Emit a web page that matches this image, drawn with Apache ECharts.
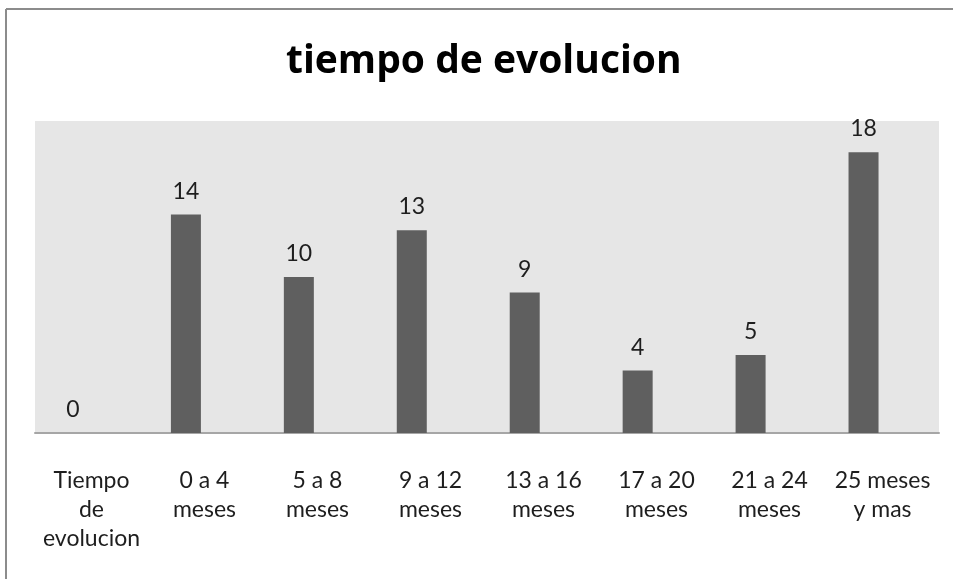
<!DOCTYPE html>
<html>
<head>
<meta charset="utf-8">
<script src="https://cdn.jsdelivr.net/npm/echarts@6/dist/echarts.min.js"></script>
<style>
  html, body { margin: 0; padding: 0; background: #fff; }
  #chart { width: 953px; height: 579px; }
</style>
</head>
<body>
<div id="chart"></div>
<script>
// datos del grafico
const categories = ['Tiempo\nde\nevolucion', '0 a 4\nmeses', '5 a 8\nmeses', '9 a 12\nmeses',
  '13 a 16\nmeses', '17 a 20\nmeses', '21 a 24\nmeses', '25 meses\ny mas']
const values = [0, 14, 10, 13, 9, 4, 5, 18]
const yMin = 0
const yMax = 20

const font = 'Lato, "Open Sans", sans-serif'

const myChart = echarts.init(document.getElementById('chart'))

const option = {
  animation: false,
  title: {
    text: 'tiempo de evolucion',
    left: 286,
    top: 42,
    padding: 0,
    textStyle: {
      fontFamily: '"Open Sans", sans-serif',
      fontSize: 39,
      fontWeight: 'bold',
      color: '#000'
    }
  },
  graphic: [
    // borde exterior (solo arriba e izquierda visibles)
    { type: 'line', shape: { x1: 6, y1: 9, x2: 953, y2: 9 }, style: { stroke: '#8c8c8c', lineWidth: 2 } },
    { type: 'line', shape: { x1: 6, y1: 9, x2: 6, y2: 579 }, style: { stroke: '#8c8c8c', lineWidth: 2 } }
  ],
  grid: [
    { // fondo gris y etiquetas
      left: 35, right: 14, top: 121, bottom: 146,
      show: true, backgroundColor: '#e6e6e6', borderWidth: 0
    },
    { // barras (desplazadas a la izquierda como en el original)
      left: 16.5, right: 33, top: 121, bottom: 146
    }
  ],
  xAxis: [
    {
      gridIndex: 0,
      type: 'category',
      data: categories,
      axisLine: { show: true, lineStyle: { color: '#a6a6a6', width: 2 } },
      axisTick: { show: false },
      axisLabel: {
        interval: 0,
        margin: 33,
        fontFamily: font,
        fontSize: 23,
        lineHeight: 29,
        color: '#1e1e1e'
      }
    },
    {
      gridIndex: 1,
      type: 'category',
      data: categories,
      show: false
    }
  ],
  yAxis: [
    { gridIndex: 0, type: 'value', min: yMin, max: yMax, show: false, splitLine: { show: false } },
    { gridIndex: 1, type: 'value', min: yMin, max: yMax, show: false, splitLine: { show: false } }
  ],
  series: [{
    type: 'bar',
    xAxisIndex: 1,
    yAxisIndex: 1,
    data: values,
    barWidth: 30,
    itemStyle: {
      color: '#5f5f5f'
    },
    label: {
      show: true,
      position: 'top',
      distance: 12,
      fontFamily: font,
      fontSize: 23,
      color: '#1e1e1e'
    }
  }]
}

myChart.setOption(option)
</script>
</body>
</html>
